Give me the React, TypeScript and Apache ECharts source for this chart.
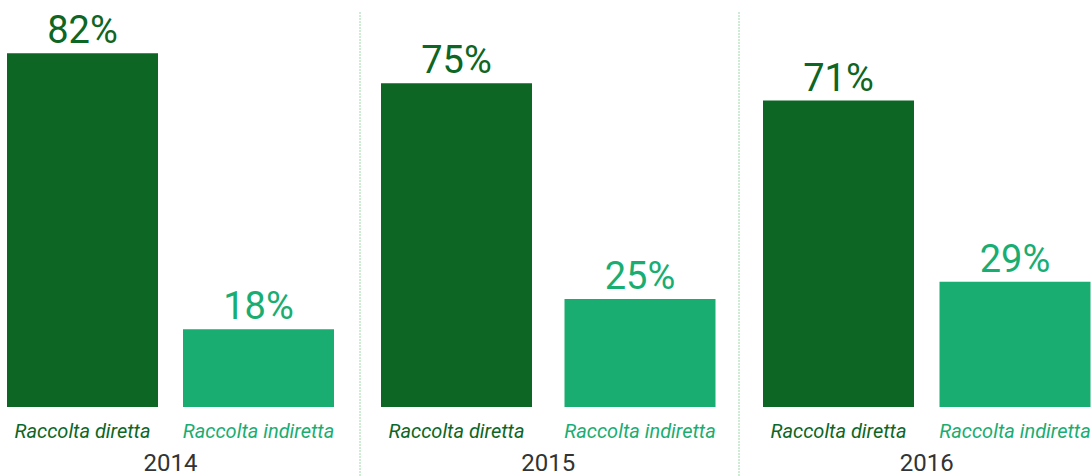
import React, { useEffect, useRef } from "react";
import * as echarts from "echarts";

const years = ["2014", "2015", "2016"];
const categories = ["Raccolta diretta", "Raccolta indiretta"];
const direct = [82, 75, 71];
const indirect = [18, 25, 29];

const DARK = "#0d6623";
const LIGHT = "#1aad71";
const FONT = "Roboto, 'Noto Sans', sans-serif";

// layout (pixel) per group
const gridLefts = [-5.5, 364.75, 750.25];
const gridWidths = [352, 367, 353];

export default function App() {
  const ref = useRef<HTMLDivElement>(null);
  useEffect(() => {
    if (!ref.current) return;
    const chart = echarts.init(ref.current, undefined, { renderer: "svg" });
    const grids = years.map((_, i) => ({
      left: gridLefts[i],
      width: gridWidths[i],
      top: 10,
      bottom: 69,
      containLabel: false,
      outerBoundsMode: "none",
    }));
    const xAxes = years.map((y, i) => ({
      type: "category",
      gridIndex: i,
      data: categories,
      axisLine: { show: false },
      axisTick: { show: false },
      axisLabel: {
        margin: 14,
        formatter: (v: string, idx: number) => (idx === 0 ? `{d|${v}}` : `{l|${v}}`),
        rich: {
          d: { color: DARK, fontSize: 20, fontStyle: "italic", fontFamily: FONT },
          l: { color: LIGHT, fontSize: 20, fontStyle: "italic", fontFamily: FONT },
        },
      },
      name: y,
      nameLocation: "middle",
      nameGap: 46,
      nameTextStyle: { color: "#333", fontSize: 24, lineHeight: 20, fontFamily: FONT },
    }));
    const yAxes = years.map((_, i) => ({
      type: "value",
      gridIndex: i,
      min: 0,
      max: 92,
      show: false,
      splitLine: { show: false },
    }));
    const series = years.map((_, i) => ({
      type: "bar",
      xAxisIndex: i,
      yAxisIndex: i,
      barWidth: 151,
      data: [
        { value: direct[i], itemStyle: { color: DARK }, label: { color: DARK } },
        { value: indirect[i], itemStyle: { color: LIGHT }, label: { color: LIGHT } },
      ],
      label: {
        show: true,
        position: "top",
        distance: 4,
        fontSize: 38,
        fontFamily: FONT,
        formatter: (p: any) => `${p.value}%`,
      },
    }));
    chart.setOption({
      animation: false,
      textStyle: { fontFamily: FONT },
      grid: grids,
      xAxis: xAxes,
      yAxis: yAxes,
      series,
      graphic: [360, 739].map((x) => ({
        type: "line",
        shape: { x1: x, y1: 12, x2: x, y2: 476 },
        style: { stroke: "#9ed9a9", lineWidth: 1, lineDash: [2, 1] },
      })),
    });
    return () => chart.dispose();
  }, []);
  return (
    <div
      ref={ref}
      style={{ position: "absolute", left: 0, top: 0, width: 1091, height: 476 }}
    />
  );
}
